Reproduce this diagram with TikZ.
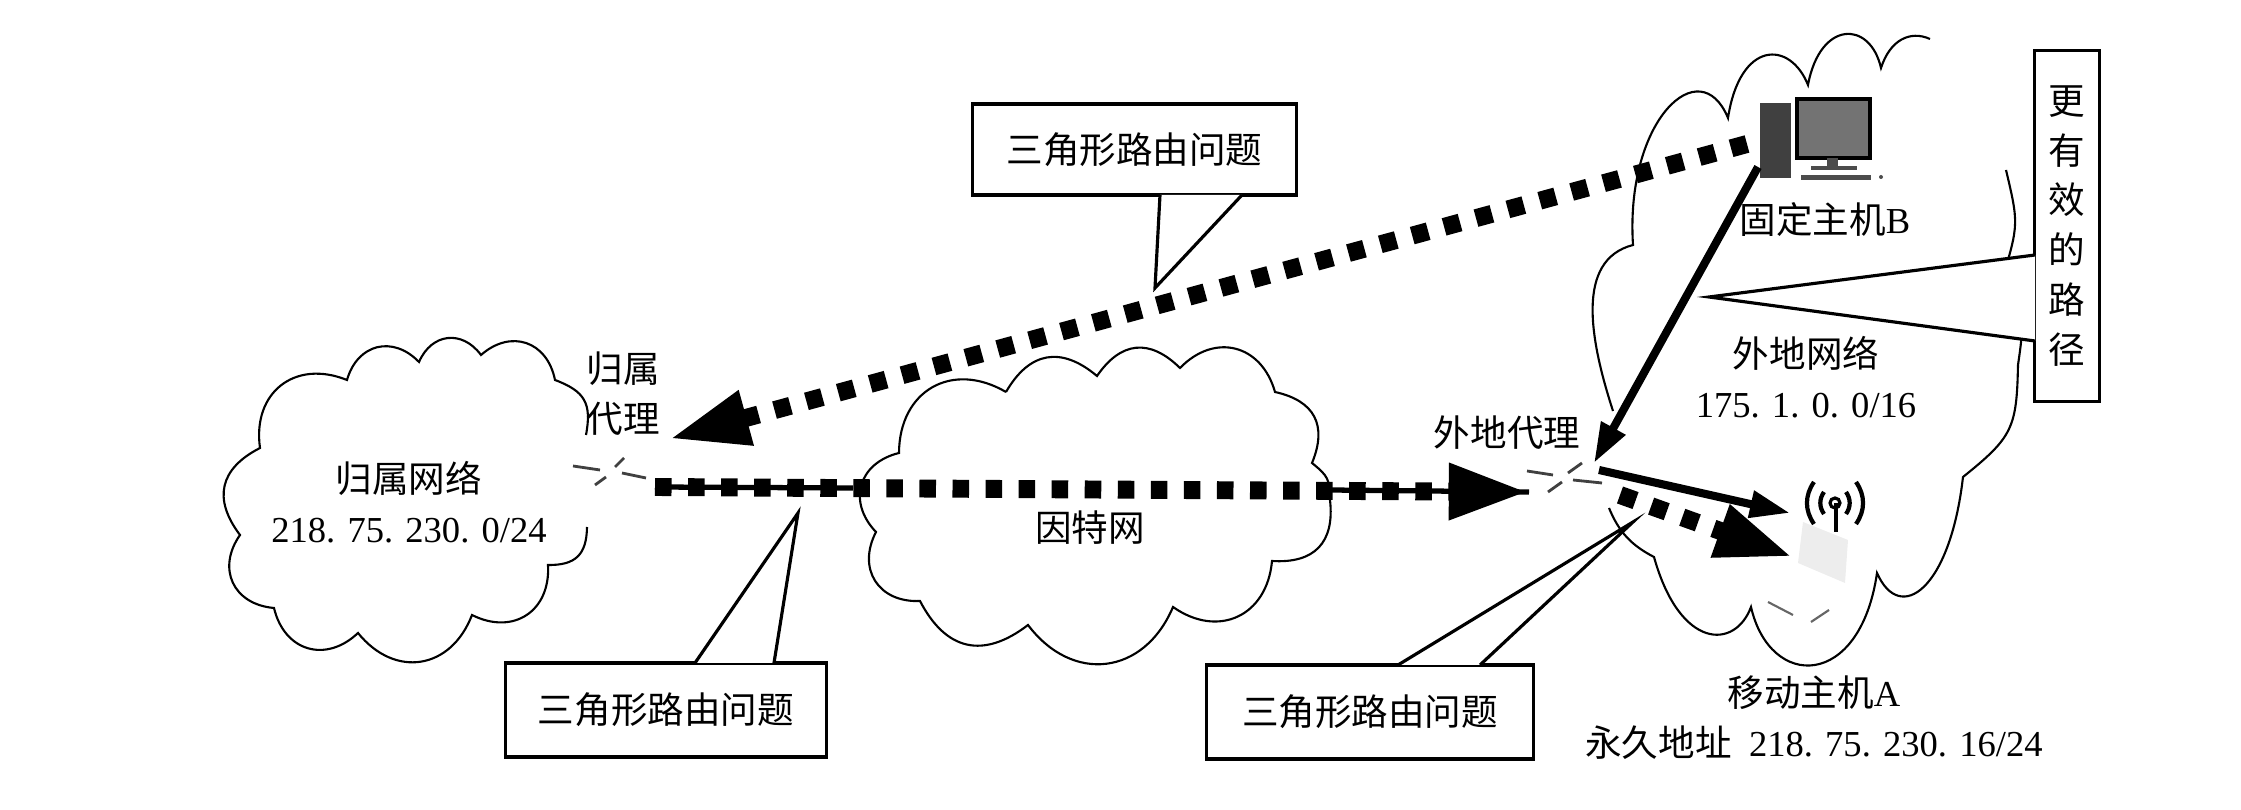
\documentclass[tikz,border=0pt]{standalone}
\usepackage{fontspec}
\setmainfont{Liberation Serif}
\newfontfamily\han{Noto Sans CJK SC}
\usetikzlibrary{positioning, arrows.meta}

\begin{document}
\begin{tikzpicture}[
    x=0.01cm, y=-0.01cm,
    cloud line/.style={draw, line width=0.6pt},
    lobe/.style={bend left=#1, looseness=1.3},
    lobe/.default=60,
    lbl/.style={font=\han\fontsize{10.4}{14.2}\selectfont, align=center, inner sep=0pt},
    tagbox/.style={draw, line width=0.9pt, fill=white, align=center, inner sep=0pt,
      font=\han\fontsize{10.4}{14.2}\selectfont},
    wedge/.style={draw, line width=0.9pt, fill=white, line join=miter},
    tunnel/.style={-{Triangle[length=22.8pt, width=14.8pt]}, line width=5.1pt,
      dash pattern=on 4.7pt off 4.7pt},
    link/.style={line width=1.5pt},
    direct/.style={-{Triangle[length=11.4pt, width=7.4pt]}, line width=2.3pt},
    router/.style={line width=0.8pt, black!75}
  ]
    \useasboundingbox (0,0) rectangle (2241,810);

    % clouds
    \draw[cloud line] (587,527) to[lobe=45] (548,565) to[lobe] (472,615) to[lobe] (358,633)
      to[lobe] (274,608) to[lobe] (240,535) to[lobe=50] (260,448) to[lobe] (347,380)
      to[lobe] (419,362) to[lobe] (481,355) to[lobe] (555,380) to[lobe=40] (586,435);
    \draw[cloud line] (1006,392) to[lobe=50] (1097,376) to[lobe=50] (1180,368) to[lobe] (1275,392)
      to[lobe=50] (1312,463) to[lobe=25] (1330,500) to[lobe=50] (1272,561) to[lobe] (1173,607)
      to[lobe] (1028,625) to[lobe=50] (920,601) to[lobe] (876,532) to[lobe] (899,453)
      to[lobe] (1006,392);
    \draw[cloud line] (1613,411) .. controls (1590,340) and (1575,260) .. (1633,245)
      .. controls (1625,120) and (1700,50) .. (1728,118)
      .. controls (1740,40) and (1790,40) .. (1808,85)
      .. controls (1820,20) and (1870,20) .. (1881,68)
      .. controls (1890,40) and (1910,30) .. (1930,39);
    \draw[cloud line] (2006,170) to[lobe=15] (2003,277) to[lobe=18] (2018,365) to[lobe=25] (1963,477)
      .. controls (1950,590) and (1900,625) .. (1877,573)
      .. controls (1860,690) and (1770,690) .. (1751,607)
      .. controls (1735,650) and (1680,650) .. (1654,557) to[bend left=20] (1609,508);
    \draw[line width=0.6pt, black!60] (1768,602) -- (1793,615) (1811,622) -- (1829,610);

    % fixed host
    \fill[black!75] (1760,103) rectangle (1791,178);
    \draw[line width=1.2pt, fill=black!55] (1797,99) rectangle (1870,158);
    \fill[black!70] (1827,158) rectangle (1838,168);
    \fill[black!70] (1811,166) rectangle (1857,170);
    \fill[black!70] (1801,175) rectangle (1871,180);
    \fill[black!70] (1881,177) circle (2);
    \node[lbl] (hostB) at (1825,220) {固定主机{\rmfamily B}};

    % mobile host
    \fill[black!7] (1803,522) -- (1848,540) -- (1845,583) -- (1798,563) -- cycle;
    \draw[line width=0.9pt] (1835,503) circle (5);
    \draw[line width=1.3pt] (1836,503) -- (1836,532);
    \foreach \off/\hgt in {11/11, 21/21}{
      \draw[line width=1.2pt] (1835+\off,503-\hgt) to[bend left=35] (1835+\off,503+\hgt);
      \draw[line width=1.2pt] (1835-\off,503+\hgt) to[bend left=35] (1835-\off,503-\hgt);
    }
    \node[lbl] (hostA) at (1814,718) {移动主机{\rmfamily A}\\永久地址 {\rmfamily\ 218. 75. 230. 16/24}};

    % agents
    \draw[router] (573,466) -- (600,470) (595,485) -- (606,477) (615,467) -- (624,458) (646,478) -- (622,473);
    \draw[router] (1527,471) -- (1553,475) (1548,492) -- (1562,482) (1568,473) -- (1582,463) (1573,480) -- (1602,483);
    \node[lbl] (homeagent) at (623,394) {归属\\代理};
    \node[lbl] (foreignagent) at (1507,433) {外地代理};

    % network labels
    \node[lbl] (homenet) at (409,502) {归属网络\\{\rmfamily 218. 75. 230. 0/24}};
    \node[lbl] (inet) at (1090,528) {因特网};
    \node[lbl] (foreignnet) at (1806,377) {外地网络\\{\rmfamily 175. 1. 0. 0/16}};

    % route ends
    \coordinate (haout) at (655,487);
    \coordinate (haend) at (853,488);
    \coordinate (hain) at (669,439);
    \coordinate (fastart) at (1330,490);
    \coordinate (fain) at (1529,492);
    \coordinate (fadash) at (1620,495);
    \coordinate (fasolid) at (1599,470);
    \coordinate (fatop) at (1594,463);
    \coordinate (bdash) at (1747,144);
    \coordinate (bsolid) at (1758,167);
    \coordinate (adash) at (1793,557);
    \coordinate (asolid) at (1790,513);

    % routes
    \draw[link] (haout) -- (haend);
    \draw[link] (fastart) -- (fain);
    \draw[tunnel] (haout) -- (fain);
    \draw[tunnel] (bdash) -- (hain);
    \draw[direct] (bsolid) -- (fatop);
    \draw[direct] (fasolid) -- (asolid);
    \draw[tunnel, -{Triangle[length=22pt, width=14.5pt]}] (fadash) -- (adash);

    % tags
    \node[tagbox, minimum width=3.23cm, minimum height=0.91cm] (tagtop) at (1134.5,149.5) {三角形路由问题};
    \coordinate (toptip) at (1155,288);
    \draw[wedge] (1160,195) -- (toptip) -- (1242,195);

    \node[tagbox, minimum width=3.21cm, minimum height=0.94cm] (tagleft) at (666,710) {三角形路由问题};
    \coordinate (lefttip) at (798,513);
    \draw[wedge] (695,663) -- (lefttip) -- (774,663);

    \node[tagbox, minimum width=3.26cm, minimum height=0.94cm] (tagright) at (1370,712) {三角形路由问题};
    \coordinate (righttip) at (1633,522);
    \draw[wedge] (1398,665) -- (righttip) -- (1480,665);

    \node[tagbox, minimum width=0.65cm, minimum height=3.5cm] (tagpath) at (2067,226)
      {更\\有\\效\\的\\路\\径};
    \coordinate (pathtip) at (1709,297);
    \draw[wedge] (2035,255) -- (pathtip) -- (2035,341);
\end{tikzpicture}
\end{document}
